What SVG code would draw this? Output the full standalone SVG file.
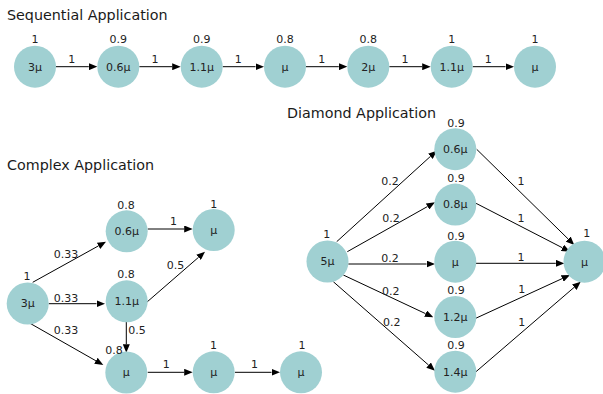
<svg xmlns="http://www.w3.org/2000/svg" width="603" height="394" viewBox="0 0 603 394">
  <style>
    .title { font-family: "DejaVu Sans", sans-serif; font-size: 14.3px; fill: #1a1a1a; }
    .lbl { font-family: "DejaVu Sans", sans-serif; font-size: 11px; fill: #222; text-anchor: middle; }
    .node circle { fill: #a0d0d2; }
    .edge { stroke: #000; stroke-width: 1; fill: none; marker-end: url(#ah); }
  </style>
  <defs>
    <marker id="ah" viewBox="0 0 8.5 7" refX="0" refY="3.5" markerWidth="8.5" markerHeight="7" markerUnits="userSpaceOnUse" orient="auto">
      <path d="M0,0 L8.5,3.5 L0,7 z" fill="#000"/>
    </marker>
  </defs>
  <rect width="603" height="394" fill="#fff"/>

  <!-- titles -->
  <text class="title" x="7" y="20">Sequential Application</text>
  <text class="title" x="7" y="170">Complex Application</text>
  <text class="title" x="287" y="118">Diamond Application</text>

  <!-- connectors -->
  <g id="connectors">
    <!-- sequential chain -->
    <line class="edge" x1="56" y1="66.7" x2="88.8" y2="66.7"/>
    <line class="edge" x1="139.3" y1="66.7" x2="172.2" y2="66.7"/>
    <line class="edge" x1="222.7" y1="66.7" x2="255.5" y2="66.7"/>
    <line class="edge" x1="306" y1="66.7" x2="338.8" y2="66.7"/>
    <line class="edge" x1="389.3" y1="66.7" x2="422.2" y2="66.7"/>
    <line class="edge" x1="472.7" y1="66.7" x2="505.5" y2="66.7"/>

    <!-- complex graph -->
    <line class="edge" x1="32.7" y1="282.3" x2="98.56" y2="245.82"/>
    <line class="edge" x1="48.7" y1="303.7" x2="96.5" y2="303.7"/>
    <line class="edge" x1="30" y1="323.3" x2="95.91" y2="360.8"/>
    <line class="edge" x1="147.7" y1="229" x2="184.2" y2="229"/>
    <line class="edge" x1="146.7" y1="302.3" x2="198.58" y2="257.27"/>
    <line class="edge" x1="126.3" y1="321.7" x2="126.3" y2="344.2"/>
    <line class="edge" x1="147.7" y1="372.3" x2="184.2" y2="372.3"/>
    <line class="edge" x1="235" y1="372.3" x2="271.5" y2="372.3"/>

    <!-- diamond fan-out -->
    <line class="edge" x1="336.7" y1="241.7" x2="430.41" y2="156.42"/>
    <line class="edge" x1="347.3" y1="251.7" x2="427.59" y2="206.47"/>
    <line class="edge" x1="348.3" y1="264" x2="426.5" y2="264"/>
    <line class="edge" x1="343.3" y1="275" x2="425.61" y2="313.68"/>
    <line class="edge" x1="333.3" y1="281.7" x2="428.6" y2="365.1"/>
    <!-- diamond fan-in -->
    <line class="edge" x1="476.7" y1="149.3" x2="568.23" y2="239.05"/>
    <line class="edge" x1="476" y1="203.3" x2="562.44" y2="247.81"/>
    <line class="edge" x1="476" y1="263.3" x2="555.8" y2="263.3"/>
    <line class="edge" x1="475.7" y1="318.3" x2="562.28" y2="278.55"/>
    <line class="edge" x1="476" y1="371.7" x2="574.26" y2="287.24"/>

    <!-- edge weights -->
    <g class="weights">
      <text class="lbl" x="71.7" y="62.7">1</text>
      <text class="lbl" x="155" y="62.7">1</text>
      <text class="lbl" x="238.3" y="62.7">1</text>
      <text class="lbl" x="321.7" y="62.7">1</text>
      <text class="lbl" x="405" y="62.7">1</text>
      <text class="lbl" x="488.3" y="62.7">1</text>

      <text class="lbl" x="66" y="257.7">0.33</text>
      <text class="lbl" x="66" y="302.3">0.33</text>
      <text class="lbl" x="66" y="334.3">0.33</text>
      <text class="lbl" x="173.5" y="225">1</text>
      <text class="lbl" x="175.5" y="269">0.5</text>
      <text class="lbl" x="137" y="334.3">0.5</text>
      <text class="lbl" x="166.3" y="368.3">1</text>
      <text class="lbl" x="254.5" y="368.3">1</text>

      <text class="lbl" x="390" y="184.7">0.2</text>
      <text class="lbl" x="391" y="221.7">0.2</text>
      <text class="lbl" x="390" y="262.3">0.2</text>
      <text class="lbl" x="390.7" y="294.7">0.2</text>
      <text class="lbl" x="391.7" y="326.3">0.2</text>
      <text class="lbl" x="521" y="185">1</text>
      <text class="lbl" x="521" y="222.3">1</text>
      <text class="lbl" x="521" y="260.7">1</text>
      <text class="lbl" x="521.7" y="293.3">1</text>
      <text class="lbl" x="521.7" y="326.3">1</text>
    </g>
  </g>

  <!-- sequential nodes -->
  <g id="seq-1" class="node"><circle cx="35" cy="66.7" r="21"/><text class="lbl" x="35" y="70.5">3μ</text><text class="lbl" x="35" y="43.3">1</text></g>
  <g id="seq-2" class="node"><circle cx="118.3" cy="66.7" r="21"/><text class="lbl" x="118.3" y="70.5">0.6μ</text><text class="lbl" x="118.3" y="43.3">0.9</text></g>
  <g id="seq-3" class="node"><circle cx="201.7" cy="66.7" r="21"/><text class="lbl" x="201.7" y="70.5">1.1μ</text><text class="lbl" x="201.7" y="43.3">0.9</text></g>
  <g id="seq-4" class="node"><circle cx="285" cy="66.7" r="21"/><text class="lbl" x="285" y="70.5">μ</text><text class="lbl" x="285" y="43.3">0.8</text></g>
  <g id="seq-5" class="node"><circle cx="368.3" cy="66.7" r="21"/><text class="lbl" x="368.3" y="70.5">2μ</text><text class="lbl" x="368.3" y="43.3">0.8</text></g>
  <g id="seq-6" class="node"><circle cx="451.7" cy="66.7" r="21"/><text class="lbl" x="451.7" y="70.5">1.1μ</text><text class="lbl" x="451.7" y="43.3">1</text></g>
  <g id="seq-7" class="node"><circle cx="535" cy="66.7" r="21"/><text class="lbl" x="535" y="70.5">μ</text><text class="lbl" x="535" y="43.3">1</text></g>

  <!-- complex nodes -->
  <g id="cx-a" class="node"><circle cx="27.7" cy="303.5" r="21"/><text class="lbl" x="27.7" y="307.3">3μ</text><text class="lbl" x="27" y="280">1</text></g>
  <g id="cx-b" class="node"><circle cx="126.7" cy="231.3" r="21"/><text class="lbl" x="126.7" y="235.1">0.6μ</text><text class="lbl" x="126" y="209">0.8</text></g>
  <g id="cx-c" class="node"><circle cx="213.7" cy="230" r="21"/><text class="lbl" x="213.7" y="233.8">μ</text><text class="lbl" x="213.7" y="208.3">1</text></g>
  <g id="cx-d" class="node"><circle cx="126.7" cy="301.3" r="21"/><text class="lbl" x="126.7" y="305.1">1.1μ</text><text class="lbl" x="126" y="278.3">0.8</text></g>
  <g id="cx-e" class="node"><circle cx="126.3" cy="372.5" r="21"/><text class="lbl" x="126.3" y="376.3">μ</text><text class="lbl" x="114" y="354">0.8</text></g>
  <g id="cx-f" class="node"><circle cx="213.7" cy="372.3" r="21"/><text class="lbl" x="213.7" y="376.1">μ</text><text class="lbl" x="213.5" y="349.3">1</text></g>
  <g id="cx-g" class="node"><circle cx="301" cy="372.3" r="21"/><text class="lbl" x="301" y="376.1">μ</text><text class="lbl" x="302" y="349.3">1</text></g>

  <!-- diamond nodes -->
  <g id="dm-src" class="node"><circle cx="327.5" cy="261.5" r="21"/><text class="lbl" x="327.5" y="265.3">5μ</text><text class="lbl" x="326.7" y="238.3">1</text></g>
  <g id="dm-1" class="node"><circle cx="455.3" cy="149.2" r="21"/><text class="lbl" x="455.3" y="153">0.6μ</text><text class="lbl" x="456" y="126.7">0.9</text></g>
  <g id="dm-2" class="node"><circle cx="455.3" cy="204.6" r="21"/><text class="lbl" x="455.3" y="208.4">0.8μ</text><text class="lbl" x="456" y="182.3">0.9</text></g>
  <g id="dm-3" class="node"><circle cx="455.3" cy="261.7" r="21"/><text class="lbl" x="455.3" y="265.5">μ</text><text class="lbl" x="456" y="240">0.9</text></g>
  <g id="dm-4" class="node"><circle cx="455.3" cy="317" r="21"/><text class="lbl" x="455.3" y="320.8">1.2μ</text><text class="lbl" x="456" y="294">0.9</text></g>
  <g id="dm-5" class="node"><circle cx="455.3" cy="371.7" r="21"/><text class="lbl" x="455.3" y="375.5">1.4μ</text><text class="lbl" x="456" y="349">0.9</text></g>
  <g id="dm-sink" class="node"><circle cx="584.5" cy="261.7" r="21"/><text class="lbl" x="584.5" y="265.5">μ</text><text class="lbl" x="586.7" y="237.3">1</text></g>
</svg>
